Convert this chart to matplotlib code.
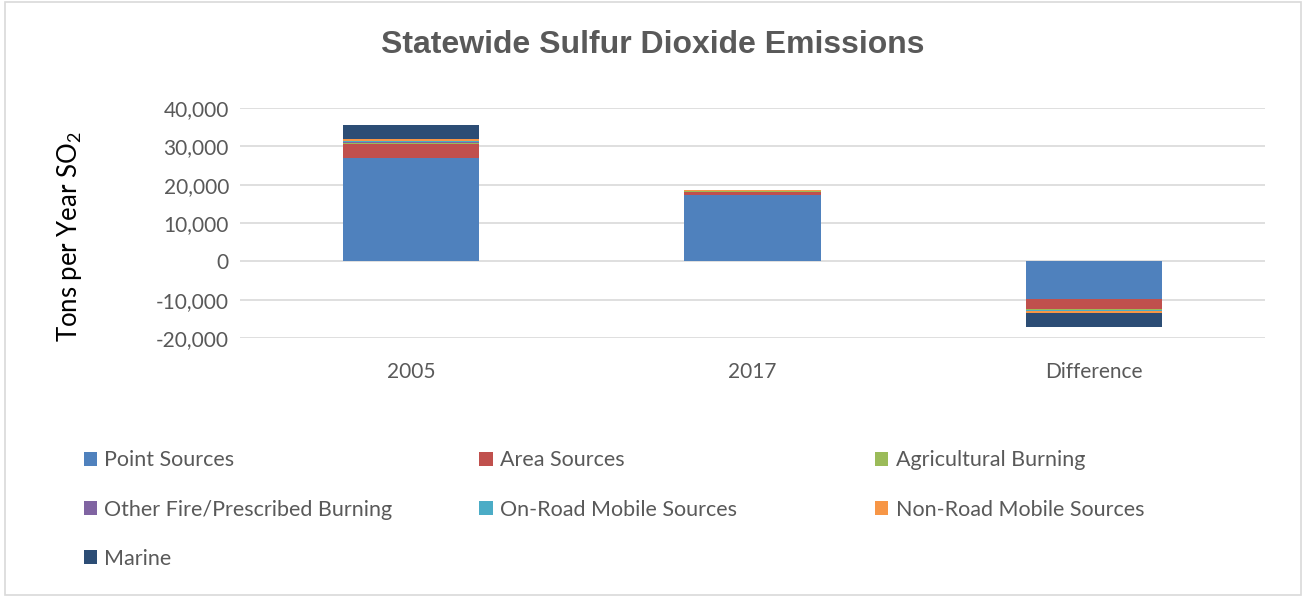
import matplotlib.pyplot as plt
from matplotlib.patches import Rectangle
from matplotlib.ticker import FuncFormatter
import numpy as np

plt.rcParams['font.family'] = ['Lato', 'DejaVu Sans']
plt.rcParams['mathtext.default'] = 'regular'

categories = ["2005", "2017", "Difference"]
sources = ["Point Sources", "Area Sources", "Agricultural Burning",
           "Other Fire/Prescribed Burning", "On-Road Mobile Sources",
           "Non-Road Mobile Sources", "Marine"]
colors = ["#4F81BD", "#C0504D", "#9BBB59", "#8064A2", "#4BACC6", "#F79646", "#2C4D75"]

point = [27000, 17300, -9700]
area = [3700, 900, -2800]
ag_burn = [300, 150, -150]
other_fire = [100, 50, -50]
on_road = [200, 50, -150]
non_road = [700, 100, -600]
marine = [3600, 50, -3550]
series = [point, area, ag_burn, other_fire, on_road, non_road, marine]

fig = plt.figure(figsize=(13.06, 5.97), dpi=100)
ax = fig.add_axes([0.1838, 0.4338, 0.7848, 0.3852])

# stack positives up and negatives down, like Excel does
x = np.arange(len(categories))
pos_base = np.zeros(len(categories))
neg_base = np.zeros(len(categories))
handles = []
for vals, name, c in zip(series, sources, colors):
    vals = np.array(vals, dtype=float)
    bottom = np.where(vals >= 0, pos_base, neg_base)
    b = ax.bar(x, vals, width=0.4, bottom=bottom, color=c, label=name, zorder=3)
    handles.append(b)
    pos_base += np.where(vals >= 0, vals, 0)
    neg_base += np.where(vals < 0, vals, 0)

ax.set_xlim(-0.5, 2.5)
ax.set_ylim(-20000, 40000)
ax.set_yticks(range(-20000, 40001, 10000))
ax.yaxis.set_major_formatter(FuncFormatter(lambda v, p: f"{v:,.0f}".replace("\u2212", "-")))
ax.set_xticks(x)
ax.set_xticklabels(categories)
ax.tick_params(axis='both', length=0, labelsize=15, colors='#595959', pad=8)
ax.tick_params(axis='x', pad=17)
ax.grid(axis='y', color='#D9D9D9', linewidth=1.2, zorder=0)
for s in ax.spines.values():
    s.set_visible(False)
ax.set_ylabel("Tons per Year SO$_2$", fontsize=18.5, color='black', va='center')
ax.yaxis.set_label_coords(-0.166, 0.44)

fig.text(0.5, 0.925, "Statewide Sulfur Dioxide Emissions", ha='center', va='center',
         fontsize=23, fontweight='bold', color='#595959', family='Liberation Sans')

# legend in three columns
col_items = [[0, 3, 6], [1, 4], [2, 5]]
col_x = [0.064, 0.367, 0.670]
for cx, items in zip(col_x, col_items):
    leg = fig.legend([handles[i] for i in items], [sources[i] for i in items],
                     loc='upper left', bbox_to_anchor=(cx, 0.2454), frameon=False,
                     fontsize=15.5, handlelength=0.62, handleheight=0.62,
                     handletextpad=0.35, labelspacing=1.36, borderaxespad=0,
                     borderpad=0)
    for t in leg.get_texts():
        t.set_color('#595959')

fig.patches.append(Rectangle((0.004, 0.004), 0.992, 0.992, transform=fig.transFigure,
                             fill=False, edgecolor='#D9D9D9', linewidth=1.2))

fig.savefig("out.png", dpi=100)
